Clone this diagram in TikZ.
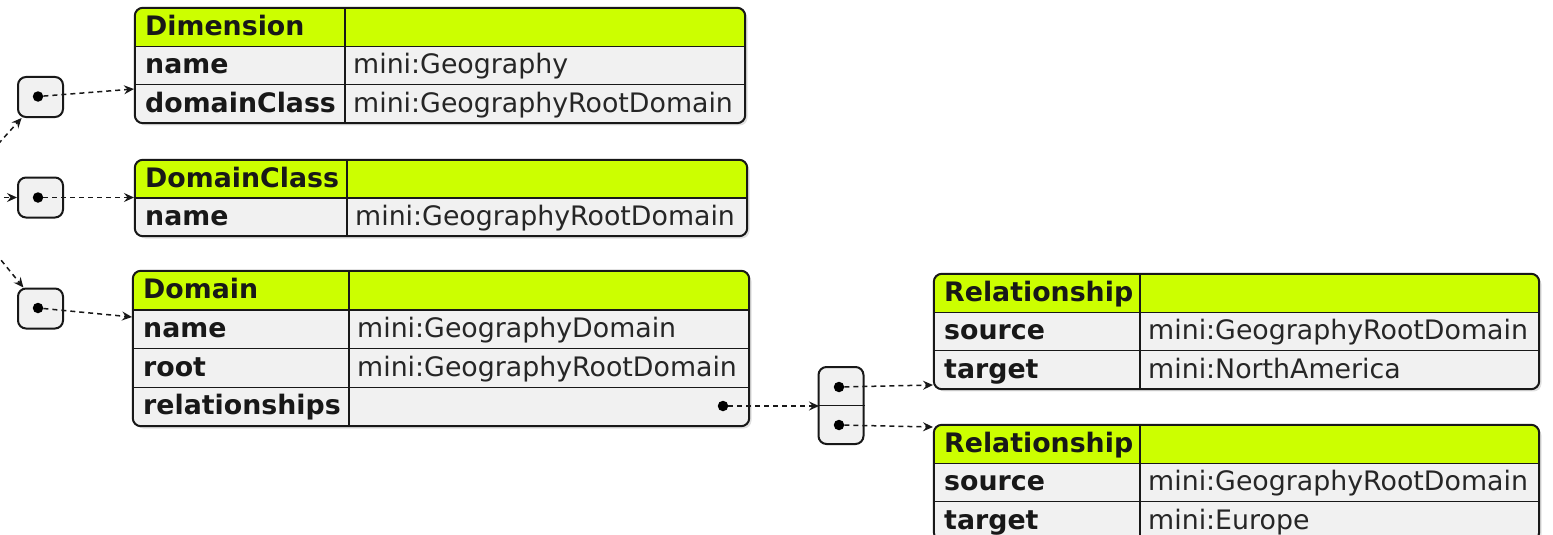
\documentclass[tikz,border=0pt]{standalone}
\usepackage{fontspec}
\setmainfont{DejaVu Sans}
\usetikzlibrary{arrows.meta}
\definecolor{hdrc}{RGB}{204,255,0}
\definecolor{bodyc}{RGB}{241,241,241}
\definecolor{linec}{RGB}{24,24,24}
\tikzset{
 txt/.style={inner sep=0pt, anchor=base west, font=\fontsize{26.8}{30}\selectfont, text=linec},
 keytxt/.style={txt, font=\fontsize{26.8}{30}\selectfont\bfseries},
 valtxt/.style={txt, text=black!85},
 tframe/.style={draw=linec, line width=2pt, rounded corners=8pt},
 trule/.style={draw=linec, line width=1.5pt},
 ptrbox/.style={rectangle, draw=linec, line width=2pt, fill=bodyc, rounded corners=8pt, minimum width=45pt, minimum height=40pt, inner sep=0pt},
 dotc/.style={circle, fill=black, inner sep=0pt, minimum size=10.5pt},
 conn/.style={draw=linec, line width=1.5pt, dash pattern=on 5pt off 4pt, -{Stealth[length=10pt,width=9pt,inset=3.5pt]}},
 shadowc/.style={fill=black, opacity=0.12, rounded corners=8pt},
}
\newcommand\jtab[9]{%
  \pgfmathsetmacro\jyb{#3+#6*(#7+1)}%
  \pgfmathsetmacro\jyh{#3+#6}%
  \pgfmathsetmacro\jcx{(#2+#4)/2}%
  \pgfmathsetmacro\jcy{(#3+\jyb)/2}%
  \pgfmathsetmacro\jw{#4-#2}%
  \pgfmathsetmacro\jh{\jyb-#3}%
  \fill[shadowc] ({#2+2.5},{#3+2.5}) rectangle ({#4+2.5},{\jyb+2.5});
  \node[rectangle, fill=bodyc, rounded corners=8pt, inner sep=0pt, minimum width=\jw pt, minimum height=\jh pt] (#1) at (\jcx,\jcy) {};
  \begin{scope}
    \clip[rounded corners=8pt] (#1.north west) rectangle (#1.south east);
    \fill[hdrc] (#1.north west) rectangle ({#4},{\jyh});
  \end{scope}
  \foreach \r in {1,...,#7} {\draw[trule] ({#2},{#3+#6*\r}) -- ({#4},{#3+#6*\r});}
  \draw[trule] ({#5},{#3}) -- ({#5},{\jyb});
  \draw[tframe] (#1.north west) rectangle (#1.south east);
  \node[keytxt] (#1-t) at ({#2+10},{#3+27.5}) {#8};
  \foreach \k/\v [count=\i] in {#9} {
    \node[keytxt] (#1-k\i) at ({#2+10},{#3+#6*\i+27.5}) {\k};
    \node[valtxt] (#1-v\i) at ({#5+8},{#3+#6*\i+27.5}) {\v};
  }
}
\begin{document}
\begin{tikzpicture}[x=1pt,y=-1pt]
\useasboundingbox (0,0) rectangle (1553,535);

\jtab{dim}{135}{8}{745}{345}{38.33}{2}{Dimension}{name/mini:Geography, domainClass/mini:GeographyRootDomain}
\jtab{dc}{135}{160}{747}{347}{38}{1}{DomainClass}{name/mini:GeographyRootDomain}
\jtab{dom}{133}{271}{749}{349}{38.75}{3}{Domain}{name/mini:GeographyDomain, root/mini:GeographyRootDomain, relationships/{}}
\jtab{relA}{934}{274}{1539}{1140}{38.33}{2}{Relationship}{source/mini:GeographyRootDomain, target/mini:NorthAmerica}
\jtab{relB}{934}{425}{1539}{1140}{38.33}{2}{Relationship}{source/mini:GeographyRootDomain, target/mini:Europe}

% pointer boxes
\node[ptrbox] (b1) at (40.5,97) {};
\node[dotc] (d1) at (38,96.5) {};
\node[ptrbox] (b2) at (40.5,197.5) {};
\node[dotc] (d2) at (38,197.5) {};
\node[ptrbox] (b3) at (40.5,308.5) {};
\node[dotc] (d3) at (38,308) {};

% array box
\node[ptrbox, minimum height=77pt] (arr) at (841,405.5) {};
\draw[trule] (arr.west) -- (arr.east);
\node[dotc] (a1) at (839,387) {};
\node[dotc] (a2) at (839,425) {};
\node[dotc] (rd) at (723,406) {};

% connector end points
\coordinate (src) at (-50,197.5);
\coordinate (dimin) at (134,89);
\coordinate (dcin) at (134,197.5);
\coordinate (domin) at (132,317);
\coordinate (arrin) at (819,406);
\coordinate (rAin) at (933,385);
\coordinate (rBin) at (933,427);

\draw[conn] (src) -- (b1);
\draw[conn] (src) -- (b2);
\draw[conn] (src) -- (b3);
\draw[conn] (d1) -- (dimin);
\draw[conn] (d2) -- (dcin);
\draw[conn] (d3) -- (domin);
\draw[conn] (rd) -- (arrin);
\draw[conn] (a1) -- (rAin);
\draw[conn] (a2) -- (rBin);
\end{tikzpicture}
\end{document}
